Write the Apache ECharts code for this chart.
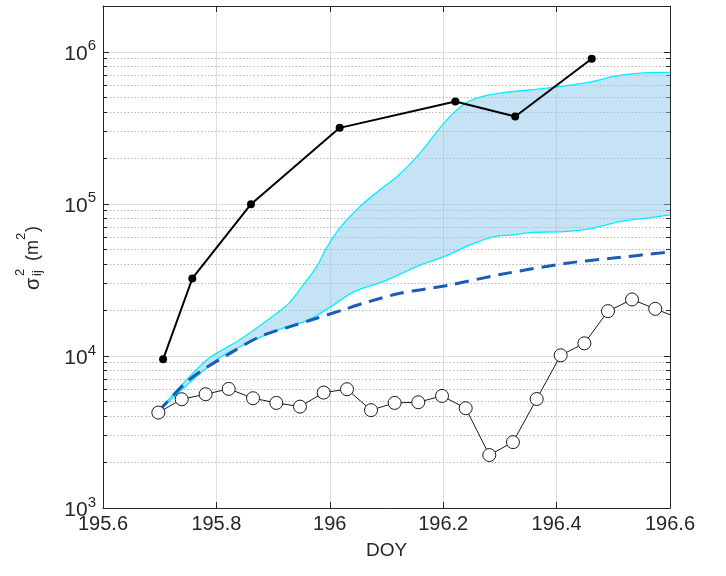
<!DOCTYPE html>
<html>
<head>
<meta charset="utf-8">
<script src="https://cdn.jsdelivr.net/npm/echarts@6/dist/echarts.min.js"></script>
<style>
  html, body { margin: 0; padding: 0; background: #fff; }
  #chart { width: 726px; height: 576px; }
</style>
</head>
<body>
<div id="chart"></div>
<script>
// Measured variance (filled dots)
const dotX = [195.706, 195.7575, 195.861, 196.0174, 196.2214, 196.327, 196.462];
const dotY = [9500, 32300, 99500, 316000, 471000, 375000, 899000];

// Hourly variance (open circles)
const circleX = [195.6976, 195.7388, 195.781, 195.8217, 195.8646, 195.9057, 195.9474, 195.9892,
                 196.0303, 196.0727, 196.1144, 196.156, 196.1979, 196.2397, 196.2813, 196.323,
                 196.3649, 196.4072, 196.449, 196.4906, 196.533, 196.574, 196.615];
const circleY = [4240, 5190, 5600, 6070, 5270, 4910, 4640, 5740,
                 6040, 4400, 4910, 4960, 5460, 4530, 2230, 2710,
                 5210, 10100, 12100, 19700, 23500, 20400, 17700];

// Diffusion model (dashed)
const dashX = [195.6975, 195.7416, 195.7711, 195.824, 195.8769, 195.9298, 195.9769, 196.0233,
               196.0591, 196.1238, 196.212, 196.3002, 196.4178, 196.5, 196.6];
const dashY = [4300, 6440, 7880, 10400, 13400, 15600, 17700, 20100,
               22200, 25800, 29300, 34300, 40700, 44000, 48300];

// Model envelope: upper bound
const upperX = [195.6975, 195.7416, 195.7852, 195.8358, 195.8827, 195.9122, 195.9298, 195.9492,
                195.9769, 195.9945, 196.018, 196.0533, 196.0885, 196.1203, 196.1591, 196.2002,
                196.2354, 196.2614, 196.3002, 196.3825, 196.4589, 196.5, 196.5471, 196.6];
const upperY = [4300, 6610, 9560, 12400, 16400, 19800, 22600, 28000,
                38700, 51500, 69500, 96000, 123600, 152900, 215600, 336000,
                448000, 498000, 535000, 577000, 632000, 688000, 724000, 733000];

// Model envelope: lower bound
const lowerX = [195.6975, 195.7416, 195.8005, 195.8416, 195.8593, 195.9152, 195.9616, 196.0004,
                196.0356, 196.0591, 196.0974, 196.1533, 196.2002, 196.2473, 196.2884, 196.3236,
                196.3584, 196.4118, 196.4589, 196.5118, 196.5589, 196.6];
const lowerY = [4300, 6130, 9410, 11500, 12400, 15100, 17200, 20900,
                25600, 27900, 31200, 38700, 44800, 53700, 60700, 62500,
                64900, 65700, 68500, 76500, 80500, 84600];

// Axis ticks
const xTicks = [195.6, 195.8, 196, 196.2, 196.4, 196.6];
const yTickExp = [3, 4, 5, 6];
const yMinorTicks = [2e3, 3e3, 4e3, 5e3, 6e3, 7e3, 8e3, 9e3,
                     2e4, 3e4, 4e4, 5e4, 6e4, 7e4, 8e4, 9e4,
                     2e5, 3e5, 4e5, 5e5, 6e5, 7e5, 8e5, 9e5];

const X_MIN = 195.6, X_MAX = 196.6, Y_MIN = 1e3, Y_MAX = 2e6;
const FONT = '"Liberation Sans", Arial, Helvetica, sans-serif';
const INK = '#262626';

const zip = (xs, ys) => xs.map((x, i) => [x, ys[i]]);
const snap = v => Math.round(v - 0.5) + 0.5;

// Catmull-Rom spline through pixel points, as SVG cubic segments (no leading M)
function splineSegments(pts) {
  let d = '';
  for (let i = 0; i < pts.length - 1; i++) {
    const p0 = pts[Math.max(i - 1, 0)], p1 = pts[i], p2 = pts[i + 1], p3 = pts[Math.min(i + 2, pts.length - 1)];
    const c1 = [p1[0] + (p2[0] - p0[0]) / 6, p1[1] + (p2[1] - p0[1]) / 6];
    const c2 = [p2[0] - (p3[0] - p1[0]) / 6, p2[1] - (p3[1] - p1[1]) / 6];
    d += ' C' + c1[0].toFixed(2) + ',' + c1[1].toFixed(2) + ' ' + c2[0].toFixed(2) + ',' + c2[1].toFixed(2) +
         ' ' + p2[0].toFixed(2) + ',' + p2[1].toFixed(2);
  }
  return d;
}
const moveTo = p => 'M' + p[0].toFixed(2) + ',' + p[1].toFixed(2);

const chart = echarts.init(document.getElementById('chart'), null, { renderer: 'canvas' });

const baseX = {
  type: 'value', min: X_MIN, max: X_MAX, interval: 0.2,
  axisLine: { show: true, onZero: false, lineStyle: { color: INK, width: 1 } },
  axisTick: { show: true, inside: true, length: 6, lineStyle: { color: INK, width: 1 } }
};
const baseY = {
  type: 'log', logBase: 10, min: Y_MIN, max: Y_MAX,
  axisLine: { show: true, onZero: false, lineStyle: { color: INK, width: 1 } },
  axisTick: { show: true, inside: true, length: 6, lineStyle: { color: INK, width: 1 } }
};

const option = {
  animation: false,
  backgroundColor: '#fff',
  grid: { left: 103, right: 56, top: 6, bottom: 68 },
  xAxis: [
    Object.assign({}, baseX, {
      position: 'bottom',
      axisLabel: {
        color: INK, fontSize: 20, fontFamily: FONT, margin: 6,
        formatter: v => {
          const t = xTicks.find(t => Math.abs(t - v) < 1e-6);
          return t === undefined ? '' : String(t);
        }
      },
      splitLine: { show: true, lineStyle: { color: '#dedede', width: 1 } },
      name: 'DOY', nameLocation: 'middle', nameGap: 33,
      nameTextStyle: { color: INK, fontSize: 19, fontFamily: FONT }
    }),
    Object.assign({}, baseX, {
      position: 'top',
      axisLabel: { show: false },
      splitLine: { show: false }
    })
  ],
  yAxis: [
    Object.assign({}, baseY, {
      position: 'left',
      axisLabel: {
        color: INK, margin: 7, fontFamily: FONT,
        formatter: v => {
          const e = Math.log10(v);
          const r = Math.round(e);
          return (Math.abs(e - r) < 1e-6 && yTickExp.includes(r)) ? '{b|10}{e|' + r + '}' : '';
        },
        rich: {
          b: { fontSize: 21, fontFamily: FONT, color: INK, verticalAlign: 'bottom' },
          e: { fontSize: 15, fontFamily: FONT, color: INK, verticalAlign: 'bottom', padding: [0, 0, 11, 0] }
        }
      },
      splitLine: { show: true, lineStyle: { color: '#dedede', width: 1 } }
    }),
    Object.assign({}, baseY, {
      position: 'right',
      axisLabel: { show: false },
      splitLine: { show: false }
    })
  ],
  graphic: [{
    type: 'group', x: 0, y: 290, rotation: Math.PI / 2, silent: true,
    children: [
      { type: 'text', x: 0,  y: 33, style: { text: 'σ',  font: '20px ' + FONT, fill: INK, verticalAlign: 'middle', textVerticalAlign: 'middle' } },
      { type: 'text', x: 14, y: 20, style: { text: '2',  font: '13px ' + FONT, fill: INK, verticalAlign: 'middle', textVerticalAlign: 'middle' } },
      { type: 'text', x: 14, y: 37, style: { text: 'ij', font: '13px ' + FONT, fill: INK, verticalAlign: 'middle', textVerticalAlign: 'middle' } },
      { type: 'text', x: 29, y: 33, style: { text: '(m', font: '18px ' + FONT, fill: INK, verticalAlign: 'middle', textVerticalAlign: 'middle' } },
      { type: 'text', x: 50, y: 21, style: { text: '2',  font: '13px ' + FONT, fill: INK, verticalAlign: 'middle', textVerticalAlign: 'middle' } },
      { type: 'text', x: 58, y: 33, style: { text: ')',  font: '18px ' + FONT, fill: INK, verticalAlign: 'middle', textVerticalAlign: 'middle' } }
    ]
  }],
  series: [
    {
      // minor log grid lines and minor ticks on both sides
      type: 'custom', name: 'minor', silent: true, z: 1,
      data: yMinorTicks.map(v => [X_MIN, v]),
      renderItem: (params, api) => {
        const cs = params.coordSys;
        const y = snap(api.coord([api.value(0), api.value(1)])[1]);
        const left = cs.x, right = cs.x + cs.width;
        return {
          type: 'group',
          children: [
            { type: 'line', shape: { x1: left, y1: y, x2: right, y2: y },
              style: { stroke: '#b8b8b8', lineWidth: 1, lineDash: [1.5, 2] } },
            { type: 'line', shape: { x1: left, y1: y, x2: left + 4, y2: y },
              style: { stroke: INK, lineWidth: 1 } },
            { type: 'line', shape: { x1: right - 4, y1: y, x2: right, y2: y },
              style: { stroke: INK, lineWidth: 1 } }
          ]
        };
      }
    },
    {
      // shaded envelope between lower and upper model bounds
      type: 'custom', name: 'envelope', silent: true, z: 2, clip: true,
      data: [[upperX[0], upperY[0]]],
      renderItem: (params, api) => {
        const up = zip(upperX, upperY).map(p => api.coord(p));
        const lo = zip(lowerX, lowerY).map(p => api.coord(p));
        const loRev = lo.slice().reverse();
        const upD = splineSegments(up);
        const loD = splineSegments(lo);
        const area = moveTo(up[0]) + upD + ' L' + loRev[0][0].toFixed(2) + ',' + loRev[0][1].toFixed(2) +
                     splineSegments(loRev) + ' Z';
        return {
          type: 'group',
          children: [
            { type: 'path', shape: { pathData: area },
              style: { fill: 'rgba(140,200,235,0.5)', stroke: null } },
            { type: 'path', shape: { pathData: moveTo(up[0]) + upD },
              style: { stroke: '#00f0ff', lineWidth: 1.3, fill: null } },
            { type: 'path', shape: { pathData: moveTo(lo[0]) + loD },
              style: { stroke: '#00f0ff', lineWidth: 1.3, fill: null } }
          ]
        };
      }
    },
    {
      type: 'line', name: 'model', z: 3,
      data: zip(dashX, dashY),
      smooth: 0.3, showSymbol: false, symbol: 'none',
      lineStyle: { color: '#1a5cb8', width: 3, type: [14, 8] }
    },
    {
      type: 'line', name: 'hourly', z: 4,
      data: zip(circleX, circleY),
      symbol: 'circle', symbolSize: 13, showAllSymbol: true,
      lineStyle: { color: '#1a1a1a', width: 1 },
      itemStyle: { color: '#fff', borderColor: '#1a1a1a', borderWidth: 1 }
    },
    {
      type: 'line', name: 'measured', z: 5,
      data: zip(dotX, dotY),
      symbol: 'circle', symbolSize: 8,
      lineStyle: { color: '#000', width: 2 },
      itemStyle: { color: '#000' }
    }
  ]
};

chart.setOption(option);
</script>
</body>
</html>
